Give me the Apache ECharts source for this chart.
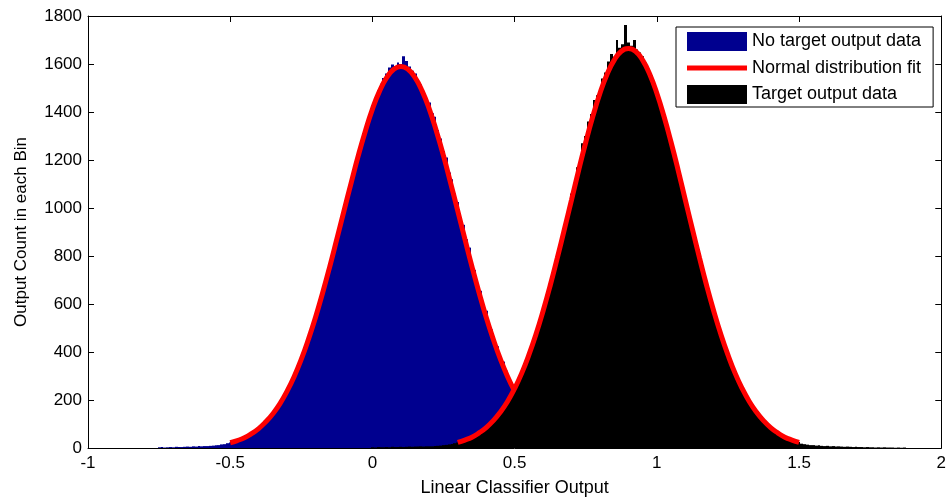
<!DOCTYPE html>
<html>
<head>
<meta charset="utf-8">
<script src="https://cdn.jsdelivr.net/npm/echarts@6/dist/echarts.min.js"></script>
<style>
  html, body { margin: 0; padding: 0; background: #fff; }
  #chart { width: 949px; height: 502px; }
</style>
</head>
<body>
<div id="chart"></div>
<script>
// histogram bins (width 0.01), counts
const binWidth = 0.01;
const blueStart = -0.75;
const blueCounts = [
  3, 4, 2, 3, 4, 3, 5, 4, 4, 5, 6, 5, 7, 6, 8,
  7, 8, 8, 9, 10, 11, 12, 15, 16, 20,
  23, 26, 30, 34, 40, 45, 50, 58, 65, 74,
  83, 92, 104, 117, 130, 145, 161, 178, 197, 218,
  239, 263, 287, 315, 342, 374, 405, 438, 474, 510,
  549, 588, 630, 672, 716, 760, 806, 851, 899, 946,
  994, 1040, 1088, 1135, 1180, 1226, 1270, 1312, 1352, 1392,
  1428, 1458, 1490, 1518, 1542, 1560, 1585, 1598, 1592, 1606,
  1600, 1632, 1612, 1590, 1572, 1560, 1538, 1515, 1485, 1458,
  1440, 1395, 1380, 1325, 1290, 1238, 1210, 1148, 1120, 1060,
  1025, 960, 930, 870, 835, 775, 742, 685, 655, 600,
  572, 520, 494, 448, 424, 382, 360, 322, 300, 268,
  240, 218, 197, 178, 161, 144, 129, 116, 104, 92, 82
];
const blackStart = 0.0;
const blackCounts = [
  3, 2, 4, 3, 3, 4, 3, 5, 4, 4, 5, 4, 5, 6, 5, 6, 6, 7, 6, 7,
  7, 7, 8, 9, 10, 12, 13, 15, 17, 20,
  23, 27, 30, 35, 40, 46, 53, 60, 68, 76,
  86, 97, 108, 122, 136, 152, 168, 187, 206, 228,
  251, 276, 302, 330, 360, 392, 426, 462, 498, 538,
  578, 620, 664, 708, 755, 800, 848, 896, 945, 994,
  1060, 1100, 1170, 1205, 1270, 1300, 1360, 1392, 1450, 1470,
  1498, 1540, 1565, 1610, 1642, 1630, 1700, 1668, 1682, 1762,
  1690, 1676, 1700, 1660, 1648, 1632, 1605, 1580, 1552, 1520,
  1484, 1446, 1406, 1365, 1322, 1277, 1230, 1183, 1135, 1086,
  1036, 987, 938, 889, 841, 793, 746, 700, 656, 613,
  572, 532, 494, 458, 423, 389, 357, 328, 300, 274,
  249, 226, 205, 185, 167, 150, 135, 121, 108, 97,
  86, 76, 68, 60, 53, 46, 41, 36, 31, 27,
  24, 18, 16, 14, 12, 12, 10, 11, 9, 8,
  9, 7, 8, 6, 7, 6, 5, 6, 5, 4,
  5, 4, 4, 3, 4, 3, 3, 2, 3, 2,
  3, 2, 2, 2, 1, 2, 1, 2
];

// normal fit curves, sampled every 0.025
const fitStep = 0.025;
const blueFitStart = -0.5;
const blueFit = [
  22, 31, 43, 60, 81, 109, 143, 185, 237, 298, 370, 453, 545, 647, 756, 871,
  988, 1104, 1217, 1320, 1412, 1487, 1543, 1578, 1590, 1578, 1543, 1487, 1412,
  1320, 1217, 1104, 988, 871, 756, 647, 545, 453, 370, 298, 237, 185, 143, 109,
  81, 60, 43, 31, 22
];
const blackFitStart = 0.3;
const blackFit = [
  23, 33, 45, 63, 85, 114, 150, 194, 248, 312, 388, 474, 571, 677, 792, 912,
  1034, 1157, 1274, 1382, 1478, 1557, 1616, 1653, 1665, 1653, 1616, 1557, 1478,
  1382, 1274, 1157, 1034, 912, 792, 677, 571, 474, 388, 312, 248, 194, 150, 114,
  85, 63, 45, 33, 23
];

const seriesNames = ['No target output data', 'Normal distribution fit', 'Target output data'];
const blueColor = '#00008f';
const fitColor = '#ff0000';
const font = 'Liberation Sans, Arial, sans-serif';

function toPairs(start, step, values) {
  return values.map((v, i) => [+(start + i * step).toFixed(4), v]);
}

function histRender(color) {
  return function (params, api) {
    const x = api.value(0);
    const y = api.value(1);
    const p0 = api.coord([x - binWidth / 2, y]);
    const p1 = api.coord([x + binWidth / 2, 0]);
    const x0 = Math.round(p0[0]);
    const x1 = Math.round(p1[0]);
    return {
      type: 'rect',
      shape: { x: x0, y: p0[1], width: Math.max(x1 - x0, 1), height: p1[1] - p0[1] },
      style: { fill: color }
    };
  };
}

const chart = echarts.init(document.getElementById('chart'));

function axisCommon() {
  return {
    axisLine: { show: true, onZero: false, lineStyle: { color: '#000', width: 1 } },
    axisTick: { show: true, inside: true, length: 6, lineStyle: { color: '#000' } },
    splitLine: { show: false }
  };
}

const option = {
  animation: false,
  backgroundColor: '#fff',
  textStyle: { fontFamily: font },
  grid: { left: 88, right: 6, top: 16, bottom: 52 },
  legend: {
    orient: 'vertical',
    left: 676,
    top: 27,
    padding: [5, 12, 3, 11],
    itemWidth: 60,
    itemHeight: 19,
    itemGap: 8,
    backgroundColor: '#fff',
    borderColor: '#000',
    borderWidth: 1,
    borderRadius: 0,
    selectedMode: false,
    textStyle: { fontSize: 18, color: '#000', fontFamily: font },
    data: [
      { name: seriesNames[0], icon: 'rect', itemStyle: { color: blueColor } },
      { name: seriesNames[1], icon: 'path://M0,7 L60,7 L60,12 L0,12 Z', itemStyle: { color: fitColor } },
      { name: seriesNames[2], icon: 'rect', itemStyle: { color: '#000' } }
    ]
  },
  xAxis: [
    Object.assign(axisCommon(), {
      type: 'value', min: -1, max: 2, interval: 0.5,
      name: 'Linear Classifier Output', nameLocation: 'middle', nameGap: 31,
      nameTextStyle: { fontSize: 18, color: '#000' },
      axisLabel: { color: '#000', fontSize: 17, margin: 7 }
    }),
    Object.assign(axisCommon(), {
      type: 'value', min: -1, max: 2, interval: 0.5, position: 'top',
      axisLabel: { show: false }
    })
  ],
  yAxis: [
    Object.assign(axisCommon(), {
      type: 'value', min: 0, max: 1800, interval: 200,
      name: 'Output Count in each Bin', nameLocation: 'middle', nameGap: 58,
      nameTextStyle: { fontSize: 17, color: '#000' },
      axisLabel: { color: '#000', fontSize: 17, margin: 6, formatter: v => String(v) }
    }),
    Object.assign(axisCommon(), {
      type: 'value', min: 0, max: 1800, interval: 200, position: 'right',
      axisLabel: { show: false }
    })
  ],
  series: [
    {
      name: seriesNames[0],
      type: 'custom',
      z: 1,
      clip: true,
      itemStyle: { color: blueColor },
      renderItem: histRender(blueColor),
      encode: { x: 0, y: 1 },
      data: toPairs(blueStart, binWidth, blueCounts)
    },
    {
      name: seriesNames[1],
      type: 'line',
      z: 2,
      smooth: true,
      symbol: 'none',
      showSymbol: false,
      lineStyle: { color: fitColor, width: 5 },
      itemStyle: { color: fitColor },
      data: toPairs(blueFitStart, fitStep, blueFit)
    },
    {
      name: seriesNames[2],
      type: 'custom',
      z: 3,
      clip: true,
      itemStyle: { color: '#000' },
      renderItem: histRender('#000'),
      encode: { x: 0, y: 1 },
      data: toPairs(blackStart, binWidth, blackCounts)
    },
    {
      name: seriesNames[1],
      type: 'line',
      z: 4,
      smooth: true,
      symbol: 'none',
      showSymbol: false,
      lineStyle: { color: fitColor, width: 5 },
      itemStyle: { color: fitColor },
      data: toPairs(blackFitStart, fitStep, blackFit)
    }
  ]
};

chart.setOption(option);
</script>
</body>
</html>
